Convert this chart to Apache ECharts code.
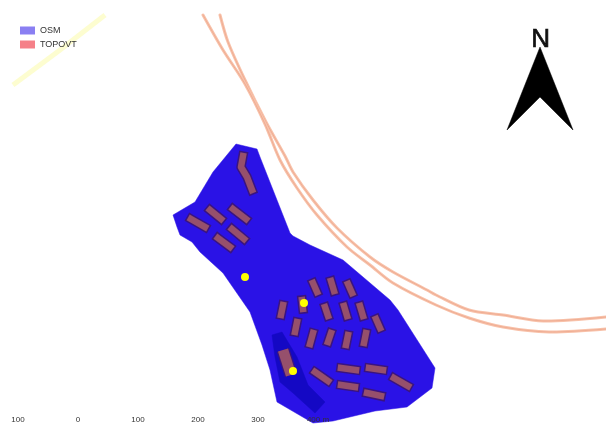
<!DOCTYPE html>
<html>
<head>
<meta charset="utf-8">
<style>
html,body{margin:0;padding:0;background:#fff;}
#chart{width:606px;height:425px;filter:blur(0.7px);}
</style>
<script src="https://cdn.jsdelivr.net/npm/echarts@6/dist/echarts.min.js"></script>
</head>
<body>
<div id="chart"></div>
<script>
const scaleTicks = [-100, 0, 100, 200, 300, 400];
const legendNames = ['OSM', 'TOPOVT'];
const siteOutline = [[236,144],[257,149],[260,157],[290,233],[293,236],[310,245],[343,260],[390,300],[398,310],[435,368],[432,388],[407,407],[375,411],[333,421],[313,423],[277,402],[270,370],[262,345],[250,312],[223,273],[200,252],[192,242],[180,235],[177,227],[173,215],[195,202],[213,172]];
const darkPatch = [[272,335],[282,332],[297,357],[308,385],[325,402],[315,413],[293,393],[280,382],[275,357]];
const roadOuter = [[220,15],[228,42],[245,80],[266,122],[285,156],[293,172],[313,200],[337,228],[370,257],[393,272],[427,290],[436,295],[469,310],[503,315],[543,321],[606,317]];
const roadInner = [[203,15],[223,50],[245,84],[265,124],[280,160],[297,188],[317,215],[347,247],[370,265],[393,283],[436,305],[469,318],[503,327],[549,332],[606,329]];
const paleTrace = [[13,85],[60,50],[105,15]];
const buildings = [
 [[313,283],[317,292]],[[331,281],[334,291]],[[348,284],[352,293]],
 [[283,305],[281,315]],[[302,300],[303,309]],[[325,307],[328,316]],[[344,306],[347,316]],[[360,306],[363,316]],
 [[376,319],[380,328]],[[297,322],[295,332]],[[313,333],[310,344]],[[331,333],[328,342]],[[348,335],[346,345]],[[366,333],[364,343]],
 [[315,372],[328,381]],[[341,368],[356,370]],[[369,368],[383,370]],[[394,378],[408,386]],[[341,385],[355,387]],[[367,393],[381,396]],
 [[191,219],[205,227]],[[210,210],[221,219]],[[233,209],[246,219]],[[232,229],[244,239]],[[218,238],[230,247]],
 [[243,156],[241,167],[247,177],[252,190]]
];
const bigBuilding = [[283,350],[291,375]];
const sensors = [[245,277],[304,303],[293,371]];
const northArrow = [[540,47],[573,130],[540,97],[507,130]];

function poly(name, shapes, fill, z) {
  return {
    type:'custom', name, coordinateSystem:'cartesian2d', xAxisIndex:0, yAxisIndex:0, clip:false, z,
    silent:true, itemStyle:{color:fill},
    data: shapes.map((_, i) => [i]),
    renderItem(params, api) {
      return {type:'polygon', shape:{points:shapes[params.dataIndex].map(p => api.coord(p))}, style:{fill, stroke:fill, lineWidth:0.5}};
    }
  };
}
function stroke(name, lines, layers, z) {
  return {
    type:'custom', name, coordinateSystem:'cartesian2d', xAxisIndex:0, yAxisIndex:0, clip:false, z,
    silent:true, itemStyle:{color:layers[layers.length-1].color},
    data: lines.map((_, i) => [i]),
    renderItem(params, api) {
      const pts = lines[params.dataIndex].map(p => api.coord(p));
      return {type:'group', children: layers.map(l => ({
        type:'polyline', shape:{points:pts, smooth:l.smooth||0},
        style:{fill:'none', stroke:l.color, lineWidth:l.width, lineCap:l.cap||'round', lineJoin:'round', opacity:l.opacity==null?1:l.opacity}
      }))};
    }
  };
}

const chart = echarts.init(document.getElementById('chart'), null, {renderer:'canvas'});
chart.setOption({
  animation:false,
  backgroundColor:'#fff',
  grid:[
    {left:0, top:0, width:606, height:425},
    {left:18, top:0, width:300, height:413}
  ],
  xAxis:[
    {type:'value', gridIndex:0, min:0, max:606, show:false},
    {type:'value', gridIndex:1, min:-100, max:400, interval:100, position:'bottom',
     axisLine:{show:false}, axisTick:{show:false}, splitLine:{show:false},
     axisLabel:{show:true, margin:3, fontSize:8, color:'#333', fontFamily:'Liberation Sans', hideOverlap:false, showMinLabel:true, showMaxLabel:true,
       formatter:v => scaleTicks.includes(v) ? (v === 400 ? Math.abs(v)+' m' : String(Math.abs(v))) : ''}, z:20}
  ],
  yAxis:[
    {type:'value', gridIndex:0, min:0, max:425, inverse:true, show:false},
    {type:'value', gridIndex:1, min:0, max:1, show:false}
  ],
  legend:{
    left:20, top:26, orient:'vertical', itemWidth:15, itemHeight:8, itemGap:5, padding:0, selectedMode:false,
    textStyle:{fontSize:9, color:'#333', fontFamily:'Liberation Sans', padding:[2,0,0,0]},
    data:[
      {name:legendNames[0], icon:'rect', itemStyle:{color:'#8a7ff2'}},
      {name:legendNames[1], icon:'rect', itemStyle:{color:'#f58088'}}
    ]
  },
  graphic:[{type:'text', left:531, top:26, style:{text:'N', font:'26px "Liberation Sans"', fill:'#111', stroke:'#111', lineWidth:0.7}, z:30}],
  series:[
    stroke('trace', [paleTrace], [{color:'#fdfdd0', width:5, cap:'butt'}], 1),
    stroke('TOPOVT', [roadOuter, roadInner], [{color:'#f8c2aa', width:3, smooth:0.3}, {color:'#e89a80', width:1, smooth:0.3, opacity:0.55}], 2),
    poly('OSM', [siteOutline], '#2a12e6', 3),
    poly('patch', [darkPatch], '#1408c4', 4),
    stroke('TOPOVT', buildings, [{color:'#3a1480', width:9.5, cap:'square'},{color:'#96506c', width:6.5, cap:'square'}], 5),
    stroke('TOPOVT', [bigBuilding], [{color:'#3a1480', width:13, cap:'butt'},{color:'#96506c', width:10.5, cap:'butt'}], 5),
    {type:'scatter', name:'sensors', xAxisIndex:0, yAxisIndex:0, data:sensors, symbolSize:8, clip:false, z:6, silent:true,
     itemStyle:{color:'#ffff00', opacity:1}},
    poly('arrow', [northArrow], '#000', 7)
  ]
});
</script>
</body>
</html>
